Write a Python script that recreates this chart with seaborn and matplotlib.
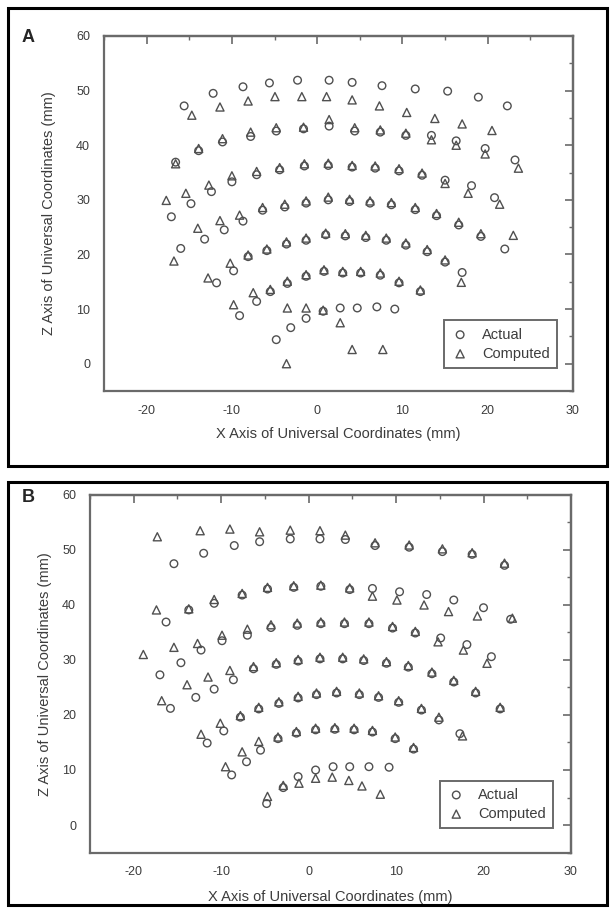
import matplotlib
matplotlib.use("Agg")
import matplotlib.pyplot as plt
from matplotlib.patches import Rectangle
from matplotlib.ticker import MultipleLocator
import pandas as pd
import seaborn as sns

# panel A - actual (circles)
a_actual_x = [-15.6, -12.2, -8.7, -5.6, -2.3, 1.4, 4.1, 7.6, 11.5, 15.3, 18.9, 22.3,
              -16.6, -13.9, -11.1, -7.8, -4.8, -1.6, 1.4, 4.4, 7.4, 10.4, 13.4, 16.3, 19.7, 23.2,
              -17.1, -14.8, -12.4, -10.0, -7.1, -4.4, -1.5, 1.3, 4.1, 6.8, 9.6, 12.3, 15.0, 18.1, 20.8,
              -16.0, -13.2, -10.9, -8.7, -6.4, -3.8, -1.3, 1.3, 3.8, 6.2, 8.7, 11.5, 14.0, 16.6, 19.2, 22.0,
              -11.8, -9.8, -8.1, -5.9, -3.6, -1.3, 1.0, 3.3, 5.7, 8.1, 10.4, 12.9, 15.0, 17.0,
              -9.1, -7.1, -5.5, -3.5, -1.3, 0.8, 3.0, 5.1, 7.4, 9.6, 12.1,
              -4.8, -3.1, -1.3, 0.7, 2.7, 4.7, 7.0, 9.1]
a_actual_z = [47.2, 49.5, 50.7, 51.4, 51.9, 51.9, 51.5, 50.9, 50.3, 49.9, 48.8, 47.2,
              36.9, 39.0, 40.6, 41.6, 42.6, 43.0, 43.5, 42.6, 42.4, 41.8, 41.8, 40.8, 39.4, 37.3,
              26.9, 29.3, 31.5, 33.3, 34.6, 35.5, 36.2, 36.3, 36.0, 35.8, 35.3, 34.5, 33.6, 32.6, 30.4,
              21.1, 22.8, 24.5, 26.1, 28.1, 28.7, 29.4, 30.0, 29.7, 29.4, 29.1, 28.2, 27.1, 25.4, 23.3, 21.0,
              14.8, 17.0, 19.6, 20.7, 21.9, 22.6, 23.6, 23.4, 23.1, 22.6, 21.7, 20.5, 18.6, 16.7,
              8.8, 11.4, 13.2, 14.7, 16.0, 16.9, 16.6, 16.6, 16.2, 14.8, 13.2,
              4.4, 6.6, 8.3, 9.6, 10.2, 10.2, 10.4, 10.0]

# panel A - computed (triangles)
a_comp_x = [-14.7, -11.4, -8.1, -4.95, -1.8, 1.1, 4.1, 7.3, 10.5, 13.8, 17.0, 20.5,
            -16.6, -13.9, -11.1, -7.8, -4.8, -1.6, 1.4, 4.4, 7.4, 10.4, 13.4, 16.3, 19.7, 23.6,
            -17.7, -15.4, -12.7, -10.0, -7.1, -4.4, -1.5, 1.3, 4.1, 6.8, 9.6, 12.3, 15.0, 17.7, 21.4,
            -16.8, -14.0, -11.4, -9.1, -6.4, -3.8, -1.3, 1.3, 3.8, 6.2, 8.7, 11.5, 14.0, 16.6, 19.2, 23.0,
            -12.8, -10.2, -8.1, -5.9, -3.6, -1.3, 1.0, 3.3, 5.7, 8.1, 10.4, 12.9, 15.0, 16.9,
            -9.8, -7.5, -5.5, -3.5, -1.3, 0.8, 3.0, 5.1, 7.4, 9.6, 12.1,
            -3.6, -3.5, -1.3, 0.7, 2.7, 4.1, 7.7]
a_comp_z = [45.5, 47.0, 48.1, 48.9, 48.9, 48.9, 48.3, 47.2, 46.0, 44.9, 43.9, 42.7,
            36.6, 39.4, 41.2, 42.4, 43.2, 43.3, 44.7, 43.2, 42.8, 42.2, 41.0, 40.0, 38.4, 35.8,
            29.9, 31.2, 32.7, 34.4, 35.2, 35.9, 36.6, 36.7, 36.3, 36.2, 35.7, 34.9, 33.0, 31.2, 29.2,
            18.8, 24.8, 26.2, 27.2, 28.6, 29.2, 29.8, 30.5, 30.1, 29.8, 29.5, 28.6, 27.5, 25.9, 23.8, 23.5,
            15.7, 18.4, 19.9, 21.0, 22.3, 23.0, 23.9, 23.8, 23.5, 23.0, 22.1, 20.9, 19.0, 14.9,
            10.8, 13.0, 13.6, 15.1, 16.3, 17.2, 16.9, 16.9, 16.6, 15.1, 13.5,
            0.0, 10.2, 10.2, 9.8, 7.5, 2.6, 2.6]

# panel B - actual (circles)
b_actual_x = [-15.4, -12.0, -8.5, -5.6, -2.1, 1.3, 4.2, 7.6, 11.5, 15.3, 18.7, 22.4,
              -16.3, -13.7, -10.8, -7.6, -4.7, -1.7, 1.4, 4.7, 7.3, 10.4, 13.5, 16.6, 20.0, 23.1,
              -17.0, -14.6, -12.3, -9.9, -7.0, -4.3, -1.3, 1.4, 4.1, 6.9, 9.6, 12.2, 15.1, 18.1, 20.9,
              -15.8, -12.9, -10.8, -8.6, -6.3, -3.7, -1.2, 1.3, 3.9, 6.3, 8.9, 11.4, 14.1, 16.6, 19.1, 21.9,
              -11.6, -9.7, -7.8, -5.7, -3.4, -1.2, 0.9, 3.2, 5.8, 8.0, 10.3, 12.9, 14.9, 17.3,
              -8.8, -7.1, -5.5, -3.5, -1.4, 0.8, 3.0, 5.2, 7.3, 9.9, 12.0,
              -4.8, -2.9, -1.2, 0.8, 2.8, 4.7, 6.9, 9.2]
b_actual_z = [47.5, 49.4, 50.8, 51.5, 52.0, 52.0, 51.9, 50.8, 50.5, 49.7, 49.2, 47.2,
              36.9, 39.1, 40.3, 41.8, 42.9, 43.2, 43.4, 42.8, 43.0, 42.4, 41.9, 40.9, 39.5, 37.4,
              27.3, 29.5, 31.8, 33.5, 34.5, 35.9, 36.3, 36.6, 36.6, 36.6, 35.8, 34.9, 34.0, 32.8, 30.6,
              21.2, 23.2, 24.7, 26.4, 28.4, 29.2, 29.8, 30.2, 30.2, 29.9, 29.4, 28.7, 27.5, 26.0, 24.0, 21.1,
              14.9, 17.1, 19.6, 21.1, 22.1, 23.1, 23.7, 24.0, 23.7, 23.2, 22.3, 20.9, 19.1, 16.6,
              9.1, 11.5, 13.6, 15.7, 16.7, 17.3, 17.4, 17.3, 16.9, 15.7, 13.8,
              3.9, 6.8, 8.8, 10.0, 10.6, 10.6, 10.6, 10.5]

# panel B - computed (triangles)
b_comp_x = [-17.3, -12.4, -9.0, -5.6, -2.1, 1.3, 4.2, 7.6, 11.5, 15.3, 18.7, 22.4,
            -17.4, -13.7, -10.8, -7.6, -4.7, -1.7, 1.4, 4.7, 7.3, 10.1, 13.2, 16.0, 19.3, 23.3,
            -18.9, -15.4, -12.7, -9.9, -7.0, -4.3, -1.3, 1.4, 4.1, 6.9, 9.6, 12.2, 14.8, 17.7, 20.4,
            -16.8, -13.9, -11.5, -9.0, -6.3, -3.7, -1.2, 1.3, 3.9, 6.3, 8.9, 11.4, 14.1, 16.6, 19.1, 21.9,
            -12.3, -10.1, -7.8, -5.7, -3.4, -1.2, 0.9, 3.2, 5.8, 8.0, 10.3, 12.9, 14.9, 17.6,
            -9.5, -7.6, -5.7, -3.5, -1.4, 0.8, 3.0, 5.2, 7.3, 9.9, 12.0,
            -4.7, -2.9, -1.1, 0.8, 2.7, 4.6, 6.1, 8.2]
b_comp_z = [52.4, 53.5, 53.8, 53.3, 53.6, 53.5, 52.7, 51.3, 50.9, 50.2, 49.5, 47.6,
            39.1, 39.3, 41.0, 42.1, 43.2, 43.5, 43.6, 43.1, 41.6, 40.9, 40.0, 38.8, 38.0, 37.6,
            31.0, 32.3, 33.0, 34.5, 35.6, 36.4, 36.7, 36.9, 36.9, 36.9, 36.1, 35.2, 33.3, 31.8, 29.4,
            22.6, 25.5, 26.9, 28.1, 28.8, 29.5, 30.1, 30.5, 30.5, 30.2, 29.7, 29.0, 27.8, 26.3, 24.3, 21.4,
            16.5, 18.5, 19.9, 21.4, 22.4, 23.4, 24.0, 24.3, 24.0, 23.5, 22.6, 21.2, 19.6, 16.2,
            10.6, 13.3, 15.2, 16.0, 17.0, 17.6, 17.7, 17.6, 17.2, 16.0, 14.1,
            5.2, 7.2, 7.6, 8.5, 8.7, 8.1, 7.1, 5.6]

x_label = "X Axis of Universal Coordinates (mm)"
z_label = "Z Axis of Universal Coordinates (mm)"

sns.set_style("white")
plt.rcParams["font.family"] = ["Liberation Sans", "DejaVu Sans"]
plt.rcParams["axes.unicode_minus"] = False

GREY = "#6a6a6a"
TXT = "#3c3c3c"
MK = "#505050"


def draw_panel(ax, ax_x, ax_z, cx, cz, ylab_x, xlab_y, leg_anchor):
    df_a = pd.DataFrame({"x": ax_x, "z": ax_z})
    df_c = pd.DataFrame({"x": cx, "z": cz})
    sns.scatterplot(data=df_a, x="x", y="z", ax=ax, marker="o", s=30,
                    facecolor="none", edgecolor=MK, linewidth=1.0, label="Actual")
    sns.scatterplot(data=df_c, x="x", y="z", ax=ax, marker="^", s=34,
                    facecolor="none", edgecolor=MK, linewidth=1.0, label="Computed")
    ax.set_xlim(-25, 30)
    ax.set_ylim(-5, 60)
    ax.xaxis.set_major_locator(MultipleLocator(10))
    ax.xaxis.set_minor_locator(MultipleLocator(5))
    ax.yaxis.set_major_locator(MultipleLocator(10))
    ax.yaxis.set_minor_locator(MultipleLocator(5))
    ax.tick_params(which="major", direction="out", length=5, width=1.2, color=GREY,
                   labelsize=9, labelcolor=TXT, pad=5)
    ax.tick_params(which="minor", direction="out", length=3, width=1.0, color=GREY)
    for sp in ax.spines.values():
        sp.set_color(GREY)
        sp.set_linewidth(1.6)

    top = ax.secondary_xaxis("top")
    top.xaxis.set_major_locator(MultipleLocator(10))
    top.xaxis.set_minor_locator(MultipleLocator(5))
    top.tick_params(which="major", direction="in", length=6, width=1.2, color=GREY, labeltop=False)
    top.tick_params(which="minor", direction="in", length=3, width=1.0, color=GREY)
    top.spines["top"].set_color(GREY)
    top.spines["top"].set_linewidth(1.6)
    right = ax.secondary_yaxis("right")
    right.yaxis.set_major_locator(MultipleLocator(10))
    right.yaxis.set_minor_locator(MultipleLocator(5))
    right.tick_params(which="major", direction="in", length=6, width=1.2, color=GREY, labelright=False)
    right.tick_params(which="minor", direction="in", length=3, width=1.0, color=GREY)
    right.spines["right"].set_color(GREY)
    right.spines["right"].set_linewidth(1.6)

    ax.set_xlabel(x_label, fontsize=10.5, color=TXT)
    ax.set_ylabel(z_label, fontsize=10.5, color=TXT)
    ax.yaxis.set_label_coords(ylab_x, 0.5)
    ax.xaxis.set_label_coords(0.5, xlab_y)

    leg = ax.legend(loc="lower right", bbox_to_anchor=leg_anchor, borderaxespad=0,
                    fontsize=10.5, frameon=True, fancybox=False, framealpha=1,
                    edgecolor=GREY, handletextpad=0.9, borderpad=0.5, labelspacing=0.35,
                    handlelength=1.2)
    leg.get_frame().set_linewidth(1.4)
    for t in leg.get_texts():
        t.set_color(TXT)


fig = plt.figure(figsize=(6.15, 9.11), dpi=100)
ax_a = fig.add_axes([0.1691, 0.5708, 0.7626, 0.3897])
ax_b = fig.add_axes([0.1463, 0.0642, 0.7821, 0.3925])

draw_panel(ax_a, a_actual_x, a_actual_z, a_comp_x, a_comp_z, -0.103, -0.10, (0.966, 0.065))
draw_panel(ax_b, b_actual_x, b_actual_z, b_comp_x, b_comp_z, -0.078, -0.105, (0.963, 0.068))

# panel frames
fig.add_artist(Rectangle((8 / 615, 1 - 466 / 911), 599 / 615, 458 / 911,
                         transform=fig.transFigure, fill=False, lw=2.2, ec="black"))
fig.add_artist(Rectangle((8 / 615, 1 - 905 / 911), 599 / 615, 423 / 911,
                         transform=fig.transFigure, fill=False, lw=2.2, ec="black"))
fig.text(22 / 615, 1 - 37 / 911, "A", fontsize=13, fontweight="bold", va="center", ha="left")
fig.text(22 / 615, 1 - 497 / 911, "B", fontsize=13, fontweight="bold", va="center", ha="left")

plt.savefig("out.png", dpi=100)
plt.close(fig)
